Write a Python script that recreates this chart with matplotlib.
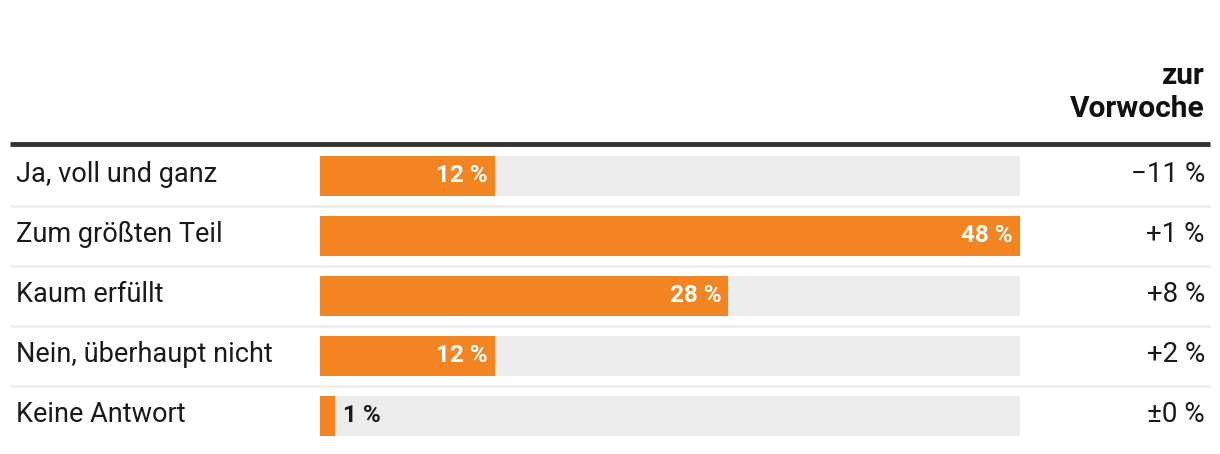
import matplotlib.pyplot as plt

plt.rcParams['font.family'] = ['Roboto', 'DejaVu Sans']

# data
answers = ['Ja, voll und ganz', 'Zum größten Teil', 'Kaum erfüllt',
           'Nein, überhaupt nicht', 'Keine Antwort']
shares = [12, 48, 28, 12, 1]
changes = ['\u221211 %', '+1 %', '+8 %', '+2 %', '\u00b10 %']
header = 'zur\nVorwoche'

orange = '#f28522'
grey = '#ececec'
sep = '#eeeeea'

W, H = 1220, 454
fig = plt.figure(figsize=(W / 100, H / 100), dpi=100)
# axes spans whole width; rows from pixel 146 to 446
ax = fig.add_axes([0, (H - 446) / H, 1, 300 / H])
px = 48 / 700  # percent per pixel
ax.set_xlim(-320 * px, 900 * px)
ax.set_ylim(4.5, -0.5)
ax.axis('off')

def xp(p):
    return (p - 320) * px

ypos = list(range(len(answers)))
ax.barh(ypos, [max(shares)] * len(shares), height=0.667, color=grey, zorder=1)
ax.barh(ypos, shares, height=0.667, color=orange, zorder=2)

for i, (a, s, c) in enumerate(zip(answers, shares, changes)):
    ax.text(xp(16), i - 0.02, a, ha='left', va='center', fontsize=19.5, color='#1a1a1a')
    if s >= 5:
        ax.text(s - 7 * px, i, f'{s} %', ha='right', va='center', fontsize=17.5,
                fontweight='bold', color='white', zorder=3)
    else:
        ax.text(s + 8 * px, i, f'{s} %', ha='left', va='center', fontsize=17.5,
                fontweight='bold', color='#1a1a1a', zorder=3)
    ax.text(xp(1205), i - 0.02, c, ha='right', va='center', fontsize=20, color='#1a1a1a')

# row separators
for i in range(len(answers) - 1):
    ax.plot([xp(10), xp(1210)], [i + 0.5, i + 0.5], color=sep, lw=2, zorder=0,
            solid_capstyle='butt')

# header rule and title
ax.plot([xp(10), xp(1210)], [-0.54, -0.54], color='#333333', lw=3.5,
        solid_capstyle='butt', clip_on=False)
ax.text(xp(1205), -0.88, header, ha='right', va='bottom', fontsize=21.5,
        fontweight='bold', color='#111111', linespacing=1.25, clip_on=False)

fig.savefig('out.png', dpi=100)
